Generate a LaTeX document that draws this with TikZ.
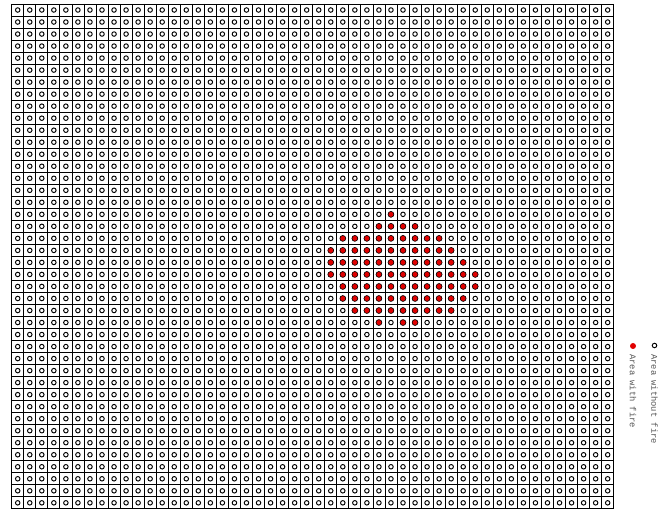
\documentclass[tikz,border=0pt]{standalone}
\usepackage{fontspec}
\newfontfamily\legendfont{Liberation Mono}
\definecolor{firered}{RGB}{225,0,0}
\definecolor{legendgray}{RGB}{85,85,85}
\begin{document}
\begin{tikzpicture}[x=1pt,y=-1pt,
  gridline/.style={line width=0.8pt,black},
  nofire/.style={line width=0.95pt,black},
  fire/.style={fill=firered,draw=black,line width=0.6pt},
  legendtext/.style={font=\legendfont\fontsize{8.8}{10}\selectfont,text=legendgray,rotate=-90,anchor=west,inner sep=0pt}]
\useasboundingbox (0,0) rectangle (659,510);
\def\xo{11.7}\def\yo{4}\def\cw{12.04}\def\ch{12.02}
% grid lines
\foreach \c in {0,...,50}
  \draw[gridline] ({\xo+\c*\cw},\yo) -- ({\xo+\c*\cw},{\yo+42*\ch});
\foreach \r in {0,...,42}
  \draw[gridline] (\xo,{\yo+\r*\ch}) -- ({\xo+50*\cw},{\yo+\r*\ch});
% open circles
\foreach \c in {0,...,49}
  \foreach \r in {0,...,41}
    \draw[nofire] ({\xo+(\c+0.5)*\cw},{\yo+(\r+0.5)*\ch}) circle (2.25);
% fire cells
\foreach \r/\a/\b in {17/31/31,18/30/33,19/27/35,20/26/36,21/26/37,22/26/38,23/27/38,24/27/37,25/28/36}
  \foreach \c in {\a,...,\b}
    \draw[fire] ({\xo+(\c+0.5)*\cw},{\yo+(\r+0.5)*\ch}) circle (2.95);
\foreach \c in {30,32,33}
  \draw[fire] ({\xo+(\c+0.5)*\cw},{\yo+(26+0.5)*\ch}) circle (2.95);
% legend
\draw[nofire] (654.5,345.5) circle (2.25);
\fill[firered] (633,346) circle (3.0);
\node[legendtext] (lnofire) at (654.5,354) {Area without fire};
\node[legendtext] (lfire) at (633,354) {Area with fire};
\end{tikzpicture}
\end{document}
